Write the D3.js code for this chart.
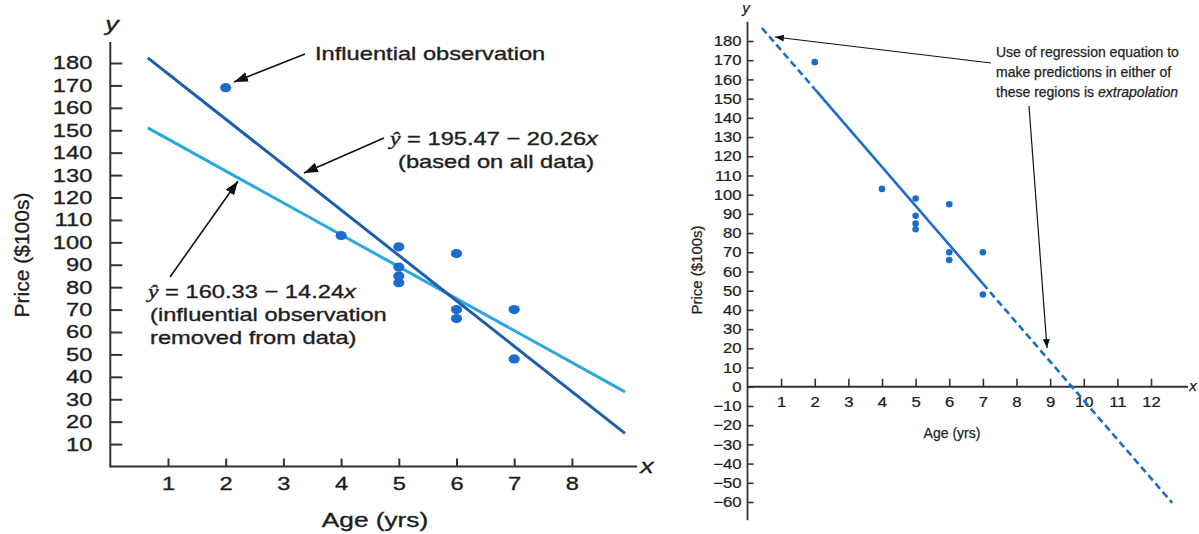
<!DOCTYPE html>
<html><head><meta charset="utf-8">
<script src="https://cdn.jsdelivr.net/npm/d3@7"></script>
<style>
body{margin:0;background:#fff}
svg{display:block}
text{font-family:"Liberation Sans",Arial,Helvetica,sans-serif;fill:#1e1e1e}
.heavy text, text.heavy{stroke:#1e1e1e;stroke-width:0.35px}
.mid text, text.mid{stroke:#1e1e1e;stroke-width:0.25px}
</style>
</head><body>
<svg id="c" width="1199" height="534"></svg>
<script>
// ---------- data ----------
const ages   = [2, 4, 5, 5, 5, 5, 6, 6, 6, 7, 7];
const prices = [169, 103, 98, 89, 85, 82, 95, 70, 66, 70, 48];
const fitAll     = {intercept: 195.47, slope: -20.26};
const fitReduced = {intercept: 160.33, slope: -14.24};
const xTicksLeft  = [1, 2, 3, 4, 5, 6, 7, 8];
const yTicksLeft  = [10, 20, 30, 40, 50, 60, 70, 80, 90, 100, 110, 120, 130, 140, 150, 160, 170, 180];
const xTicksRight = [1, 2, 3, 4, 5, 6, 7, 8, 9, 10, 11, 12];
const yTicksRight = [-60, -50, -40, -30, -20, -10, 0, 10, 20, 30, 40, 50, 60, 70, 80, 90, 100, 110, 120, 130, 140, 150, 160, 170, 180];
const leftLineSpan  = [0.65, 8.92];
const rightDashLow  = [0.43, 2];
const rightSolid    = [2, 7];
const rightDashHigh = [7, 12.63];

// ---------- setup ----------
const svg = d3.select('#c');
const SX = 1.28;           // horizontal stretch of left-panel lettering
const dark = '#1c5db0', light = '#2aa6e0', dot = '#1a6dcc', axisCol = '#333';

const defs = svg.append('defs');
function marker(id, w, h) {
  defs.append('marker').attr('id', id).attr('markerUnits', 'userSpaceOnUse')
    .attr('markerWidth', w).attr('markerHeight', h).attr('refX', w).attr('refY', h / 2)
    .attr('orient', 'auto')
    .append('path').attr('d', `M0,0L${w},${h / 2}L0,${h}Z`).attr('fill', '#111');
}
marker('arrL', 14, 10);
marker('arrR', 9, 7);

function txt(g, x, y, parts, size, sx, anchor) {
  const t = g.append('text').attr('transform', `translate(${x},${y}) scale(${sx},1)`)
    .attr('font-size', size).attr('text-anchor', anchor || 'start');
  parts.forEach(p => {
    const s = t.append('tspan').text(p.t);
    if (p.i) s.attr('font-style', 'italic');
    if (p.f) s.attr('font-family', p.f);
  });
  return t;
}
function arrow(g, x1, y1, x2, y2, m, w) {
  g.append('line').attr('x1', x1).attr('y1', y1).attr('x2', x2).attr('y2', y2)
    .attr('stroke', '#111').attr('stroke-width', w).attr('marker-end', `url(#${m})`);
}

// ---------- LEFT PANEL ----------
const L = svg.append('g').attr('class', 'heavy');
const xL = d3.scaleLinear().domain([0, 8]).range([110.3, 571.9]);
const yL = d3.scaleLinear().domain([0, 180]).range([466.5, 63]);

// axes
const xAxL = L.append('g').attr('transform', `translate(0,${yL(0)})`)
  .call(d3.axisBottom(xL).tickValues(xTicksLeft).tickSizeInner(-8).tickSizeOuter(0).tickPadding(10));
const yAxL = L.append('g').attr('transform', `translate(${xL(0)},0)`)
  .call(d3.axisLeft(yL).tickValues(yTicksLeft).tickSizeInner(-12).tickSizeOuter(0).tickPadding(18));
[xAxL, yAxL].forEach(a => {
  a.select('.domain').remove();
  a.selectAll('.tick line').attr('stroke', axisCol).attr('stroke-width', 2);
  a.selectAll('.tick text').attr('font-size', 18.5).attr('fill', '#1e1e1e')
    .attr('font-family', '"Liberation Sans",Arial,sans-serif');
});
xAxL.selectAll('.tick text').attr('transform', `scale(${SX},1)`);
yAxL.selectAll('.tick text').attr('transform', `scale(${SX},1)`).attr('x', -18 / SX);
L.append('line').attr('x1', xL(0)).attr('x2', xL(9.13)).attr('y1', yL(0)).attr('y2', yL(0))
  .attr('stroke', axisCol).attr('stroke-width', 2);
L.append('line').attr('x1', xL(0)).attr('x2', xL(0)).attr('y1', yL(0) + 1).attr('y2', yL(189.4))
  .attr('stroke', axisCol).attr('stroke-width', 2);

// regression lines
const lineL = d3.line().x(d => xL(d[0])).y(d => yL(d[1]));
function pts(fit, span) { return span.map(x => [x, fit.intercept + fit.slope * x]); }
L.append('path').attr('d', lineL(pts(fitReduced, leftLineSpan))).attr('fill', 'none')
  .attr('stroke', light).attr('stroke-width', 3);
L.append('path').attr('d', lineL(pts(fitAll, leftLineSpan))).attr('fill', 'none')
  .attr('stroke', dark).attr('stroke-width', 3);

// points
L.selectAll('ellipse.p').data(ages.map((a, i) => [a, prices[i]])).join('ellipse')
  .attr('cx', d => xL(d[0])).attr('cy', d => yL(d[1])).attr('rx', 5.6).attr('ry', 4.6).attr('fill', dot);

// axis titles
txt(L, 112, 31, [{t: 'y', i: 1}], 21, SX, 'middle');
txt(L, 647, 473, [{t: 'x', i: 1}], 21, SX, 'middle');
txt(L, 375, 527, [{t: 'Age (yrs)'}], 20.5, SX, 'middle');
L.append('text').attr('transform', 'translate(29,255) rotate(-90)').attr('text-anchor', 'middle')
  .attr('font-size', 21).text('Price ($100s)');

// annotations
txt(L, 315, 60, [{t: 'Influential observation'}], 18.5, SX);
arrow(L, 305, 54, 234, 82, 'arrL', 1.6);

txt(L, 390, 145, [{t: 'ŷ', i: 1, f: '"Liberation Serif",serif'}, {t: ' = 195.47 − 20.26'}, {t: 'x', i: 1}], 18.5, SX);
txt(L, 398, 168, [{t: '(based on all data)'}], 18.5, SX);
arrow(L, 384, 138, 304, 173, 'arrL', 1.6);

txt(L, 148, 298, [{t: 'ŷ', i: 1, f: '"Liberation Serif",serif'}, {t: ' = 160.33 − 14.24'}, {t: 'x', i: 1}], 18.5, SX);
txt(L, 150, 321, [{t: '(influential observation'}], 18.5, SX);
txt(L, 150, 344, [{t: 'removed from data)'}], 18.5, SX);
arrow(L, 170, 277, 238, 181, 'arrL', 1.6);

// ---------- RIGHT PANEL ----------
const R = svg.append('g').attr('class', 'mid');
const SXR = 1.15;
const xR = d3.scaleLinear().domain([0, 12]).range([747.5, 1151]);
const yR = d3.scaleLinear().domain([-60, 180]).range([502, 41]);

const xAxR = R.append('g').attr('transform', `translate(0,${yR(0)})`)
  .call(d3.axisBottom(xR).tickValues(xTicksRight).tickSizeInner(-8).tickSizeOuter(0).tickPadding(9.5)
    .tickFormat(d3.format('d')));
const yAxR = R.append('g').attr('transform', `translate(${xR(0)},0)`)
  .call(d3.axisLeft(yR).tickValues(yTicksRight).tickSizeInner(-6).tickSizeOuter(0).tickPadding(6)
    .tickFormat(d => d < 0 ? '−' + Math.abs(d) : String(d)));
[xAxR, yAxR].forEach(a => {
  a.select('.domain').remove();
  a.selectAll('.tick line').attr('stroke', axisCol).attr('stroke-width', 1.6);
  a.selectAll('.tick text').attr('font-size', 14.5).attr('fill', '#1e1e1e')
    .attr('font-family', '"Liberation Sans",Arial,sans-serif');
});
xAxR.selectAll('.tick text').attr('transform', `scale(${SXR},1)`);
yAxR.selectAll('.tick text').attr('transform', `scale(${SXR},1)`).attr('x', -6 / SXR);
R.append('line').attr('x1', xR(0)).attr('x2', xR(13.1)).attr('y1', yR(0)).attr('y2', yR(0))
  .attr('stroke', axisCol).attr('stroke-width', 1.8);
R.append('line').attr('x1', xR(0)).attr('x2', xR(0)).attr('y1', yR(-69.5)).attr('y2', yR(190))
  .attr('stroke', axisCol).attr('stroke-width', 1.8);

const lineR = d3.line().x(d => xR(d[0])).y(d => yR(d[1]));
R.append('path').attr('d', lineR(pts(fitAll, rightSolid))).attr('fill', 'none')
  .attr('stroke', dot).attr('stroke-width', 2.6);
[rightDashLow, rightDashHigh].forEach(span => {
  R.append('path').attr('d', lineR(pts(fitAll, span))).attr('fill', 'none')
    .attr('stroke', dot).attr('stroke-width', 2.6).attr('stroke-dasharray', '7,4');
});

R.selectAll('circle.p').data(ages.map((a, i) => [a, prices[i]])).join('circle')
  .attr('cx', d => xR(d[0])).attr('cy', d => yR(d[1])).attr('r', 3.3).attr('fill', dot);

txt(R, 746, 13, [{t: 'y', i: 1}], 15, 1, 'middle');
txt(R, 1193, 391, [{t: 'x', i: 1}], 15, 1, 'middle');
txt(R, 952, 438, [{t: 'Age (yrs)'}], 14, 1, 'middle');
R.append('text').attr('transform', 'translate(702,270) rotate(-90)').attr('text-anchor', 'middle')
  .attr('font-size', 15).text('Price ($100s)');

txt(R, 996, 57, [{t: 'Use of regression equation to'}], 14, 1);
txt(R, 996, 77, [{t: 'make predictions in either of'}], 14, 1);
txt(R, 996, 97, [{t: 'these regions is '}, {t: 'extrapolation', i: 1}], 14, 1);
arrow(R, 991, 63, 775, 37, 'arrR', 1.2);
arrow(R, 1029, 106, 1047, 348, 'arrR', 1.2);
</script>
</body></html>
